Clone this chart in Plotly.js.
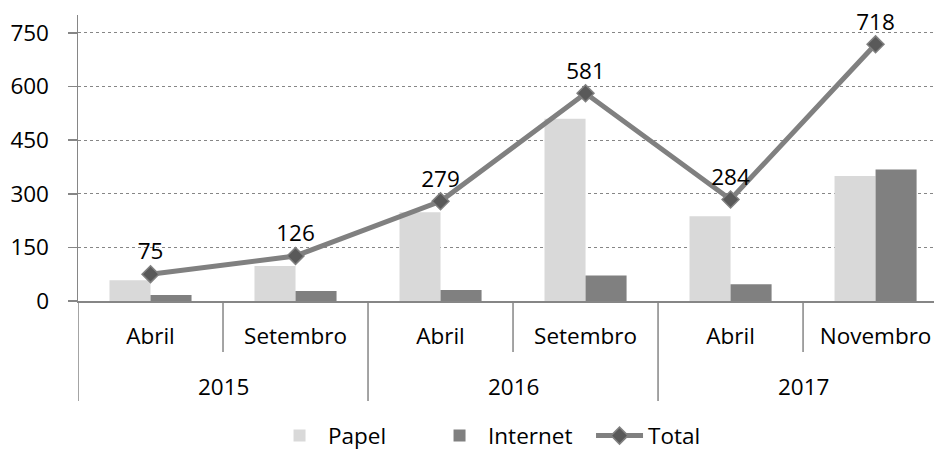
<!DOCTYPE html>
<html>
<head>
<meta charset="utf-8">
<script src="https://cdn.plot.ly/plotly-3.0.1.min.js"></script>
<style>html,body{margin:0;padding:0;background:#fff;}#chart{width:934px;height:454px;}</style>
</head>
<body>
<div id="chart"></div>
<script>
// Data
var categories = ["2015 Abril", "2015 Setembro", "2016 Abril", "2016 Setembro", "2017 Abril", "2017 Novembro"];
var monthLabels = ["Abril", "Setembro", "Abril", "Setembro", "Abril", "Novembro"];
var years = ["2015", "2016", "2017"];
var papel = [58, 98, 248, 510, 237, 350];
var internet = [17, 28, 31, 71, 47, 368];
var total = [75, 126, 279, 581, 284, 718];
var yTicks = [0, 150, 300, 450, 600, 750];

var FONT = "Open Sans, sans-serif";
var FS = 22.5;
var AXIS = "#868686";

var traces = [
  {type: "bar", name: "Papel", x: categories, y: papel, marker: {color: "#d9d9d9"}, hoverinfo: "y"},
  {type: "bar", name: "Internet", x: categories, y: internet, marker: {color: "#808080"}, hoverinfo: "y"},
  {type: "scatter", mode: "lines+markers+text", name: "Total", x: categories, y: total,
   line: {color: "#808080", width: 5},
   marker: {symbol: "diamond", size: 13, color: "#595959", line: {color: "#808080", width: 1.5}},
   text: total.map(String), textposition: "top center",
   textfont: {family: FONT, size: FS, color: "#000"}, cliponaxis: false}
];

// Year labels and group dividers, positioned on the category axis
var annotations = years.map(function (yr, i) {
  return {xref: "x", yref: "paper", x: 2 * i + 0.5, y: 0, yshift: -85, text: yr,
          showarrow: false, font: {family: FONT, size: FS, color: "#000"}, yanchor: "middle"};
});
var shapes = [];
years.forEach(function (yr, i) {
  shapes.push({type: "line", xref: "x", yref: "paper", ysizemode: "pixel", yanchor: 0,
               x0: 2 * i - 0.5, x1: 2 * i - 0.5, y0: 0, y1: -100, line: {color: AXIS, width: 1.5}});
  shapes.push({type: "line", xref: "x", yref: "paper", ysizemode: "pixel", yanchor: 0,
               x0: 2 * i + 0.5, x1: 2 * i + 0.5, y0: 0, y1: -51, line: {color: AXIS, width: 1.5}});
});

var layout = {
  width: 934, height: 454,
  margin: {l: 78, r: 0, t: 15, b: 153, autoexpand: false},
  paper_bgcolor: "#fff", plot_bgcolor: "#fff",
  font: {family: FONT, size: FS, color: "#000"},
  barmode: "group", bargap: 0.434, bargroupgap: 0,
  showlegend: true,
  legend: {orientation: "h", x: 0.2255, xanchor: "left", y: -0.472, yanchor: "middle",
           itemwidth: 47, entrywidth: 98, entrywidthmode: "pixels", bgcolor: "rgba(0,0,0,0)",
           font: {family: FONT, size: FS, color: "#000"}, traceorder: "normal"},
  xaxis: {type: "category", categoryorder: "array", categoryarray: categories,
          range: [-0.5, 5.403], tickvals: categories, ticktext: monthLabels,
          showgrid: false, showline: true, linecolor: AXIS, linewidth: 1.5,
          ticks: "", ticklabelstandoff: 14, tickfont: {family: FONT, size: FS, color: "#000"},
          fixedrange: true},
  yaxis: {range: [0, 800], tickvals: yTicks, showgrid: true, gridcolor: AXIS, griddash: "dot",
          gridwidth: 1, showline: true, linecolor: AXIS, linewidth: 1.5, zeroline: false,
          ticks: "outside", ticklen: 9, tickcolor: AXIS, tickwidth: 1.5, ticklabelstandoff: 14,
          tickfont: {family: FONT, size: FS, color: "#000"}, fixedrange: true},
  annotations: annotations,
  shapes: shapes
};

Plotly.newPlot("chart", traces, layout, {displayModeBar: false, staticPlot: true});
</script>
</body>
</html>
